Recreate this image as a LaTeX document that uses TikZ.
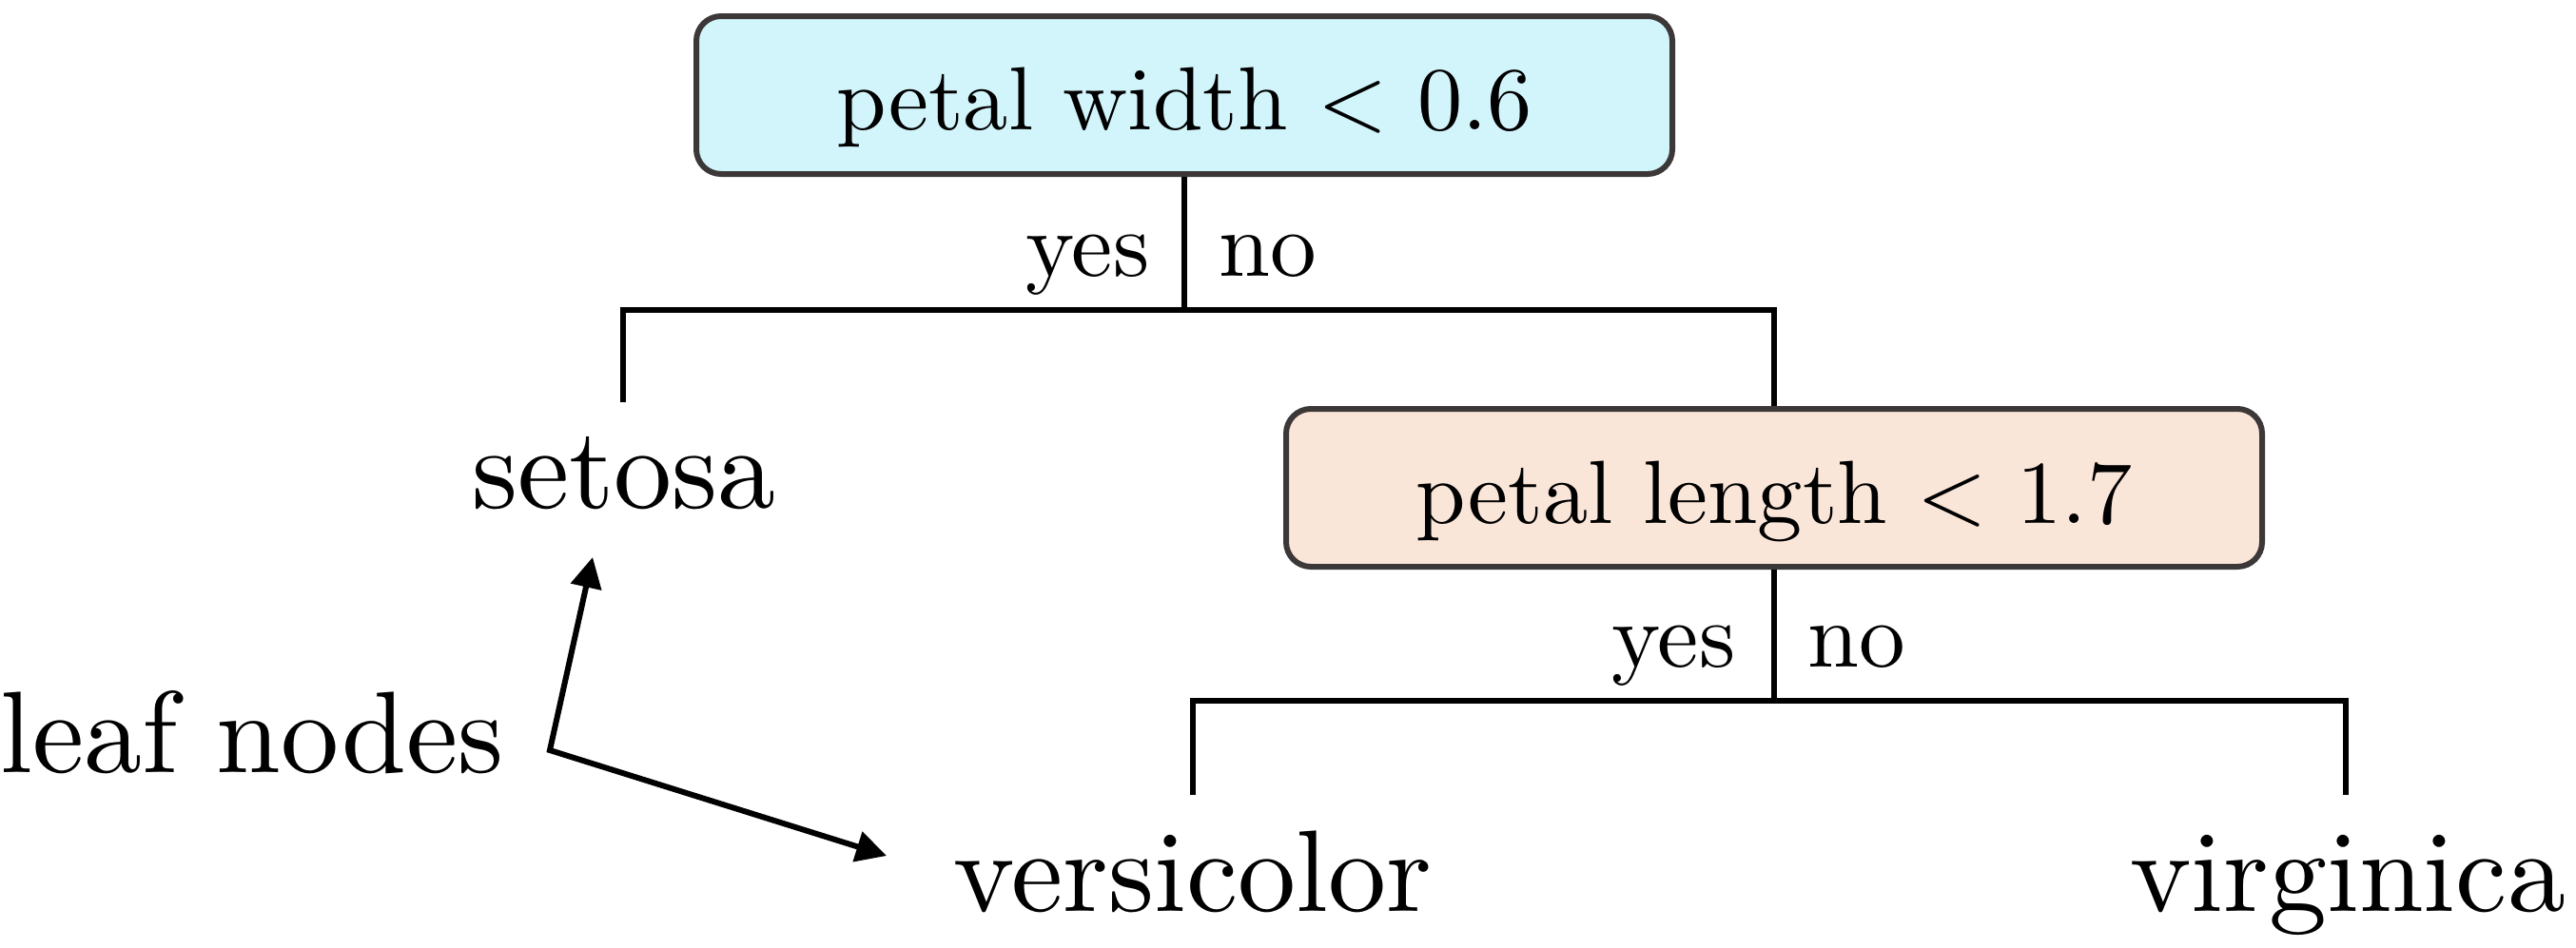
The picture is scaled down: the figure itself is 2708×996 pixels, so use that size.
\documentclass[tikz,border=0pt]{standalone}
\usepackage{fontspec}
\setmainfont{lmroman10-regular}[Extension=.otf]
\usetikzlibrary{arrows.meta}
\definecolor{boxcyan}{HTML}{D2F5FC}
\definecolor{boxpeach}{HTML}{FAE5D9}
\definecolor{boxline}{HTML}{3C3838}
\tikzset{
  splitbox/.style={draw=boxline, line width=1.5pt, rounded corners=6.5pt,
    minimum width=256.5pt, minimum height=41.5pt, inner sep=0pt,
    font=\fontsize{23.6}{28}\selectfont, text height=23pt, text depth=4.5pt},
  leafnode/.style={inner sep=0pt, anchor=base, font=\fontsize{30.5}{36}\selectfont},
  branchlabel/.style={inner sep=0pt, font=\fontsize{24.3}{29}\selectfont},
  edge/.style={line width=1.4pt, black},
  pointer/.style={line width=1.5pt, {Triangle[length=8pt,width=8pt]}-{Triangle[length=8pt,width=8pt]}}
}
\begin{document}
\begin{tikzpicture}[x=0.25pt,y=-0.25pt]
\useasboundingbox (0,0) rectangle (2708,996);
% split nodes
\node[splitbox, fill=boxcyan] (root) at (1245,100) {petal width < 0.6};
\node[splitbox, fill=boxpeach] (inner) at (1865,513) {petal length < 1.7};
% leaves
\node[leafnode] (setosa) at (656,534) {setosa};
\node[leafnode] (versicolor) at (1254,958) {versicolor};
\node[leafnode] (virginica) at (2468,958) {virginica};
\node[leafnode] (leaf) at (265,812) {leaf nodes};
% junctions
\coordinate (j1) at (1245,326);
\coordinate (setosatop) at (655,423);
\coordinate (j2) at (1865,737);
\coordinate (versitop) at (1254,836);
\coordinate (virgtop) at (2466,836);
\draw[edge] (root.south) -- (j1);
\draw[edge] (setosatop) |- (j1) -| (inner.north);
\draw[edge] (inner.south) -- (j2);
\draw[edge] (versitop) |- (j2) -| (virgtop);
% branch labels
\node[branchlabel, anchor=base east] (yes1) at (1209,290) {yes};
\node[branchlabel, anchor=base west] (no1) at (1281,290) {no};
\node[branchlabel, anchor=base east] (yes2) at (1825,701) {yes};
\node[branchlabel, anchor=base west] (no2) at (1900,701) {no};
% pointer arrows
\coordinate (fork) at (578,789);
\coordinate (tipA) at (623,586);
\coordinate (tipB) at (932,900);
\draw[pointer] (tipA) -- (fork) -- (tipB);
\end{tikzpicture}
\end{document}
